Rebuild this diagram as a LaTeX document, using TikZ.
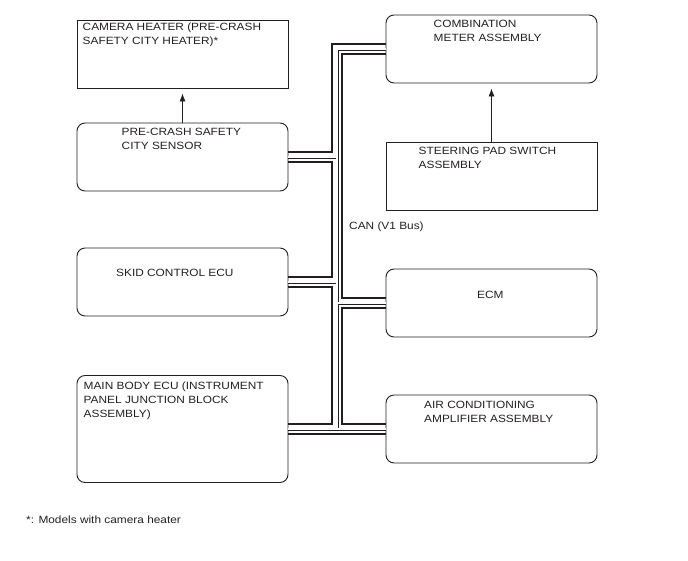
\documentclass[tikz,border=0pt]{standalone}
\usepackage{fontspec}
\setmainfont{Liberation Sans}[FakeStretch=1.13]
\usetikzlibrary{calc,arrows.meta}
\definecolor{ink}{RGB}{35,31,32}

\begin{document}
\begin{tikzpicture}[
    x=1pt,y=-1pt,
    unit/.style = {draw=ink,line width=0.9pt,inner sep=0pt,minimum width=211pt,minimum height=68pt},
    ubox/.style = {unit,rounded corners=8pt},
    lbl/.style = {font=\fontsize{10.5}{14}\selectfont,align=left,inner sep=0pt,anchor=base west,text=ink},
    wire/.style = {draw=ink,line width=2.6pt},
    bus/.style = {draw=ink,double=white,double distance=2pt,line width=0.5pt},
    sig/.style = {draw=ink,line width=0.8pt,-{Latex[length=8pt,width=6pt]},shorten >=5pt}
    ]
    \useasboundingbox (0,0) rectangle (688,560);
    % ecus
    \node[unit] (cam) at (182.5,54) {};
    \node[ubox] (sen) at (182.5,157) {};
    \node[ubox] (skid) at (182.5,282) {};
    \node[ubox,minimum height=107pt] (mbe) at (182.5,429) {};
    \node[ubox] (cmb) at (491.5,49) {};
    \node[unit] (str) at (491.5,176) {};
    \node[ubox] (ecm) at (491.5,303) {};
    \node[ubox] (ac) at (491.5,429) {};
    % texts (base = last line)
    \node[lbl] (camt) at (82.5,44) {CAMERA HEATER (PRE-CRASH\\SAFETY CITY HEATER)*};
    \node[lbl] (sent) at (121.5,149.5) {PRE-CRASH SAFETY\\CITY SENSOR};
    \node[lbl] (skidt) at (116,276) {SKID CONTROL ECU};
    \node[lbl] (mbet) at (83.5,417) {MAIN BODY ECU (INSTRUMENT\\PANEL JUNCTION BLOCK\\ASSEMBLY)};
    \node[lbl] (cmbt) at (433.5,41.5) {COMBINATION\\METER ASSEMBLY};
    \node[lbl] (strt) at (418.5,168.5) {STEERING PAD SWITCH\\ASSEMBLY};
    \node[lbl] (ecmt) at (477,298) {ECM};
    \node[lbl] (act) at (424,422) {AIR CONDITIONING\\AMPLIFIER ASSEMBLY};
    \node[lbl] (can) at (349,229) {CAN (V1 Bus)};
    \node[lbl] (note) at (26,523) {*: Models with camera heater};
    % signals
    \draw[sig] (sen.north) -- (cam.south);
    \draw[sig] (str.north) -- (cmb.south);
    % can bus
    \coordinate (trunk) at (337,0);
    \draw[wire] ($(cmb.west)+(0,-5)$) -| ($(trunk |- sen.east)+(-5,-5)$) -- ($(sen.east)+(0,-5)$);
    \draw[wire] ($(sen.east)+(0,5)$) -| ($(trunk |- skid.east)+(-5,-5)$) -- ($(skid.east)+(0,-5)$);
    \draw[wire] ($(skid.east)+(0,5)$) -| ($(trunk |- mbe.east)+(-5,-5)$) -- ($(mbe.east)+(0,-5)$);
    \draw[wire] ($(cmb.west)+(0,5)$) -| ($(trunk |- ecm.west)+(5,-5)$) -- ($(ecm.west)+(0,-5)$);
    \draw[wire] ($(ecm.west)+(0,5)$) -| ($(trunk |- ac.west)+(5,-5)$) -- ($(ac.west)+(0,-5)$);
    \draw[wire] ($(mbe.east)+(0,5)$) -- ($(ac.west)+(0,5)$);
    \draw[bus] (mbe.east) -- (ac.west);
    \draw[bus] (cmb.west) -| ($(trunk |- ac.west)+(0,-1)$);
    \draw[bus] (sen.east) -- ($(trunk |- sen.east)+(-1,0)$);
    \draw[bus] (skid.east) -- ($(trunk |- skid.east)+(-1,0)$);
    \draw[bus] (ecm.west) -- ($(trunk |- ecm.west)+(1,0)$);
\end{tikzpicture}
\end{document}
